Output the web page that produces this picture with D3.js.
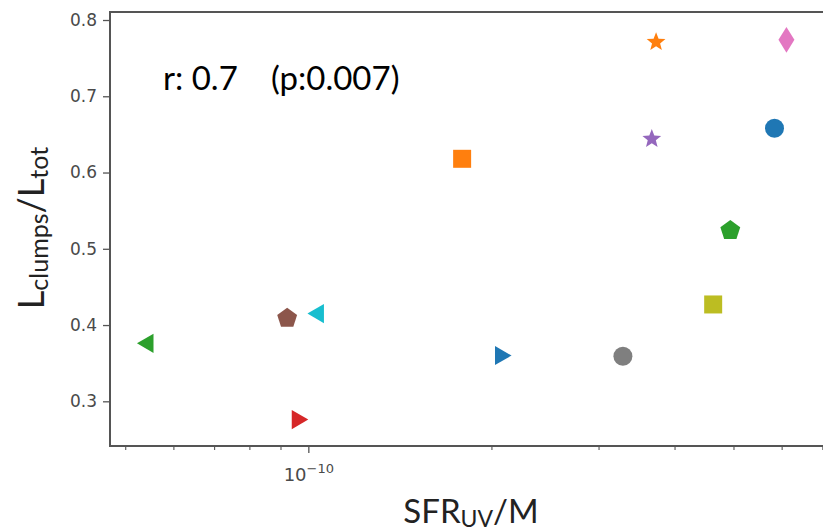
<!DOCTYPE html>
<html><head><meta charset="utf-8">
<script src="https://cdn.jsdelivr.net/npm/d3@7"></script>
<style>body{margin:0;background:#fff;}svg{display:block;}</style>
</head><body>
<svg id="c" width="823" height="532"></svg>
<script>
// Data
const galaxies = ["G1","G2","G3","G4","G5","G6","G7","G8","G9","G10","G11","G12","G13"];
const sfrPerMass = [5.84e-10, 3.73e-10, 4.94e-10, 9.59e-11, 3.67e-10, 9.23e-11, 6.11e-10, 3.29e-10, 4.63e-10, 1.039e-10, 2.07e-10, 1.79e-10, 5.45e-11];
const lumFraction = [0.658, 0.771, 0.524, 0.276, 0.644, 0.409, 0.774, 0.359, 0.427, 0.415, 0.360, 0.618, 0.376];
const markers = ["circle","star","pentagon","triR","star","pentagon","thinDiamond","circle","square","triL","triR","square","triL"];
const colors = ["#1f77b4","#ff7f0e","#2ca02c","#d62728","#9467bd","#8c564b","#e377c2","#7f7f7f","#bcbd22","#17becf","#1f77b4","#ff7f0e","#2ca02c"];
const yTicks = [0.3, 0.4, 0.5, 0.6, 0.7, 0.8];
const xMajorTicks = [1e-10];
const xMinorTicks = [5e-11, 6e-11, 7e-11, 8e-11, 9e-11, 2e-10, 3e-10, 4e-10, 5e-10, 6e-10, 7e-10];
const annotationR = "r: 0.7";
const annotationP = "(p:0.007)";

const svg = d3.select("#c");
const L = 110, T = 12, R = 832, B = 446;
const x = d3.scaleLog().domain([4.72e-11, 7.26e-10]).range([L, R]);
const y = d3.scaleLinear().domain([0.2414, 0.8105]).range([B, T]);

// axes
const yAxis = d3.axisLeft(y).tickValues(yTicks).tickFormat(d3.format(".1f")).tickSize(7).tickPadding(6);
const gy = svg.append("g").attr("transform", `translate(${L},0)`).call(yAxis);
gy.select(".domain").remove();
gy.selectAll("text").attr("font-family","DejaVu Sans").attr("font-size",17).attr("fill","#4a4a4a");
gy.selectAll("line").attr("stroke","#555").attr("stroke-width",1.3);

const xAxisMinor = d3.axisBottom(x).tickValues(xMinorTicks).tickFormat("").tickSize(4);
const gxm = svg.append("g").attr("transform", `translate(0,${B})`).call(xAxisMinor);
gxm.select(".domain").remove();
gxm.selectAll("line").attr("stroke","#555").attr("stroke-width",1.1);

const xAxis = d3.axisBottom(x).tickValues(xMajorTicks).tickFormat("").tickSize(7);
const gx = svg.append("g").attr("transform", `translate(0,${B})`).call(xAxis);
gx.select(".domain").remove();
gx.selectAll("line").attr("stroke","#555").attr("stroke-width",1.3);
gx.selectAll(".tick").each(function(d){
  const t = d3.select(this).append("text").attr("y", 35).attr("text-anchor","middle")
    .attr("font-family","DejaVu Sans").attr("fill","#4a4a4a").attr("font-size",18);
  const e = Math.round(Math.log10(d));
  t.append("tspan").text("10");
  t.append("tspan").attr("dy",-8).attr("font-size",13).text("\u2212" + Math.abs(e));
});

// frame
svg.append("rect").attr("x",L).attr("y",T).attr("width",R-L).attr("height",B-T)
  .attr("fill","none").attr("stroke","#555").attr("stroke-width",2);

// marker shapes
function shapePath(kind, s){
  const pts = [];
  const poly = (n, r, rot) => { for(let i=0;i<n;i++){const a=rot+2*Math.PI*i/n; pts.push([r*Math.cos(a), r*Math.sin(a)]);} };
  switch(kind){
    case "circle": return d3.symbol(d3.symbolCircle, Math.PI*(s/2)*(s/2))();
    case "square": { const h=s/2; return `M${-h},${-h}H${h}V${h}H${-h}Z`; }
    case "pentagon": poly(5, s*0.55, -Math.PI/2); break;
    case "triR": poly(3, s*0.58, 0); break;
    case "triL": poly(3, s*0.58, Math.PI); break;
    case "thinDiamond": pts.push([0,-s*0.68],[s*0.42,0],[0,s*0.68],[-s*0.42,0]); break;
    case "star": for(let i=0;i<10;i++){const a=-Math.PI/2+Math.PI*i/5; const r=i%2?s*0.25:s*0.58; pts.push([r*Math.cos(a), r*Math.sin(a)]);} break;
  }
  return "M" + pts.map(p=>p[0].toFixed(2)+","+p[1].toFixed(2)).join("L") + "Z";
}
const sizes = {circle:19, square:18, pentagon:19, triR:19, triL:19, thinDiamond:19, star:17};

svg.append("g").selectAll("path").data(galaxies).join("path")
  .attr("transform", (d,i)=>`translate(${x(sfrPerMass[i])},${y(lumFraction[i])})`)
  .attr("d", (d,i)=>shapePath(markers[i], sizes[markers[i]]))
  .attr("fill", (d,i)=>colors[i]);

// annotation
svg.append("text").attr("x",163).attr("y",90).attr("font-family","Lato").attr("font-size",33)
  .attr("fill","#000").text(annotationR);
svg.append("text").attr("x",271).attr("y",90).attr("font-family","Lato").attr("font-size",33)
  .attr("fill","#000").text(annotationP);

// axis labels
const xl = svg.append("text").attr("x",471).attr("y",523).attr("text-anchor","middle")
  .attr("font-family","Lato").attr("font-size",33).attr("fill","#222");
xl.append("tspan").text("SFR");
xl.append("tspan").attr("font-size",23).attr("dy",4).text("UV");
xl.append("tspan").attr("dy",-4).text("/M");

const yl = svg.append("text").attr("transform","translate(44,228) rotate(-90)").attr("text-anchor","middle")
  .attr("font-family","Lato").attr("font-size",36).attr("fill","#222");
yl.append("tspan").text("L");
yl.append("tspan").attr("font-size",25).attr("dy",4).text("clumps");
yl.append("tspan").attr("dy",-4).text("/L");
yl.append("tspan").attr("font-size",25).attr("dy",4).text("tot");
</script>
</body></html>
